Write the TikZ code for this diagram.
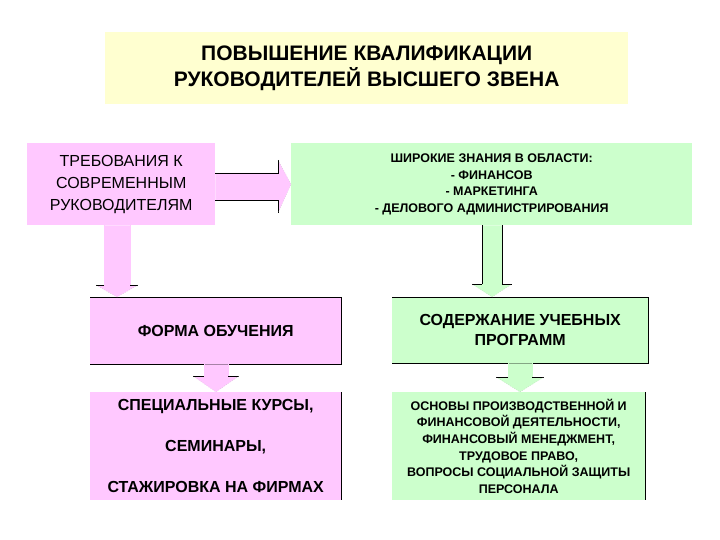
\documentclass[tikz,border=0pt]{standalone}
\usepackage{fontspec}
\setmainfont{Liberation Sans}
\usepackage{xcolor}
\usepackage{tikz}
\definecolor{qyellow}{RGB}{255,255,208}
\definecolor{qpink}{RGB}{255,200,255}
\definecolor{qgreen}{RGB}{204,255,204}

% down block arrow: fill, from node, to node, x centre, shaft half, head half, head length, shaft edge colour
\newcommand{\blockdown}[8]{%
  \fill[#1] (#4-#5,0 |- #2.south) -- (#4+#5,0 |- #2.south)
    -- ([yshift=#7]#4+#5,0 |- #3.north) -- ([yshift=#7]#4+#6,0 |- #3.north)
    -- (#4,0 |- #3.north) -- ([yshift=#7]#4-#6,0 |- #3.north)
    -- ([yshift=#7]#4-#5,0 |- #3.north) -- cycle;
  \draw[#8, line width=0.6pt] (#4-#5,0 |- #2.south) -- ([yshift=#7]#4-#5,0 |- #3.north);
  \draw[#8, line width=0.6pt] (#4+#5,0 |- #2.south) -- ([yshift=#7]#4+#5,0 |- #3.north);
  \draw[line width=0.6pt] ([yshift=#7]#4-#5,0 |- #3.north) -- ([yshift=#7]#4-#6,0 |- #3.north);
  \draw[line width=0.6pt] ([yshift=#7]#4+#5,0 |- #3.north) -- ([yshift=#7]#4+#6,0 |- #3.north);
  \draw[gray!50, dotted] ([yshift=#7]#4-#6,0 |- #3.north) -- (#4,0 |- #3.north) -- ([yshift=#7]#4+#6,0 |- #3.north);
}

\begin{document}
\begin{tikzpicture}[x=1pt, y=-1pt,
  box/.style={anchor=north west, inner sep=0pt, align=center},
  bigbold/.style={font=\fontsize{21}{25.5}\selectfont\bfseries},
  midbold/.style={font=\fontsize{16}{20}\selectfont\bfseries},
  smallbold/.style={font=\fontsize{12.5}{16.6}\selectfont\bfseries}]
\useasboundingbox[fill=white] (0,0) rectangle (720,540);

% title
\node[box, fill=qyellow, minimum width=523, minimum height=72, bigbold] (title) at (105,32)
  {ПОВЫШЕНИЕ КВАЛИФИКАЦИИ\\РУКОВОДИТЕЛЕЙ ВЫСШЕГО ЗВЕНА};

% top row
\node[box, fill=qpink, minimum width=188, minimum height=82,
  font=\fontsize{16}{22}\selectfont] (req) at (27,143)
  {ТРЕБОВАНИЯ К\\СОВРЕМЕННЫМ\\РУКОВОДИТЕЛЯМ};
\node[box, fill=qgreen, minimum width=401, minimum height=82, smallbold] (know) at (291,143)
  {ШИРОКИЕ ЗНАНИЯ В ОБЛАСТИ:\\- ФИНАНСОВ\\- МАРКЕТИНГА\\- ДЕЛОВОГО АДМИНИСТРИРОВАНИЯ};

% middle row
\node[box, fill=qpink, minimum width=251, minimum height=67, midbold] (form) at (90,297)
  {ФОРМА ОБУЧЕНИЯ};
\node[box, fill=qgreen, minimum width=256, minimum height=66, midbold] (cont) at (392,297)
  {СОДЕРЖАНИЕ УЧЕБНЫХ\\ПРОГРАММ};

% bottom row
\node[box, fill=qpink, minimum width=251, minimum height=108,
  font=\fontsize{16}{41}\selectfont\bfseries] (cours) at (90,392)
  {СПЕЦИАЛЬНЫЕ КУРСЫ,\\СЕМИНАРЫ,\\СТАЖИРОВКА НА ФИРМАХ};
\node[box, fill=qgreen, minimum width=253, minimum height=108, smallbold] (topic) at (392,392)
  {ОСНОВЫ ПРОИЗВОДСТВЕННОЙ И\\ФИНАНСОВОЙ ДЕЯТЕЛЬНОСТИ,\\ФИНАНСОВЫЙ МЕНЕДЖМЕНТ,\\ТРУДОВОЕ ПРАВО,\\ВОПРОСЫ СОЦИАЛЬНОЙ ЗАЩИТЫ\\ПЕРСОНАЛА};

% box edges
\draw[line width=0.6pt] (form.north west) -- (form.north east) -- (form.south east) -- (form.south west);
\draw[line width=0.6pt] (cont.north west) -- (cont.north east) -- (cont.south east) -- (cont.south west);
\draw[line width=0.6pt] (cours.north east) -- (cours.south east);
\draw[line width=0.6pt] (topic.north east) -- (topic.south east);

% right block arrow
\fill[qpink] (req.east |- 0,173) -- (278,173) -- (278,160) -- (know.west) -- (278,213)
  -- (278,200) -- (req.east |- 0,200) -- cycle;
\draw[line width=0.6pt] (req.east |- 0,173) -- (278,173) -- (278,160);
\draw[line width=0.6pt] (req.east |- 0,200) -- (278,200) -- (278,213);
\draw[gray!50, dotted] (278,160) -- (know.west) -- (278,213);

% down block arrows
\blockdown{qpink}{req}{form}{117}{13}{21}{12}{qpink}
\blockdown{qgreen}{know}{cont}{492}{10}{20}{13}{black}
\blockdown{qpink}{form}{cours}{216}{12}{23}{16}{qpink}
\blockdown{qgreen}{cont}{topic}{520}{12}{24}{15}{qgreen}
\end{tikzpicture}
\end{document}
